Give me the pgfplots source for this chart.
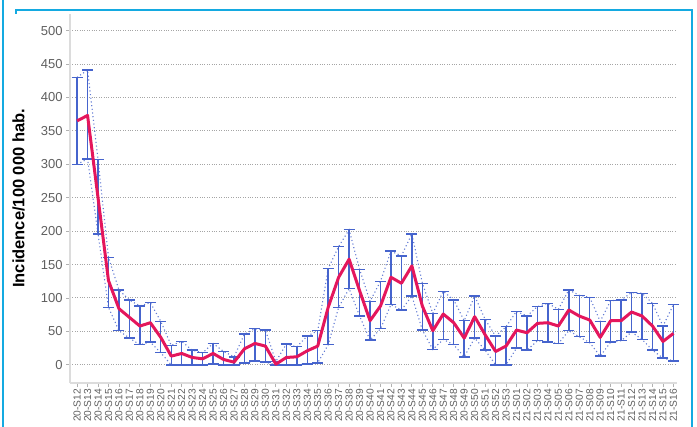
\documentclass[border=0pt]{standalone}
\usepackage{pgfplots}
\pgfplotsset{compat=1.18}
\usepackage{pgfplotstable}
\usepackage{fontspec}
\setmainfont{Liberation Sans}
\definecolor{redline}{RGB}{228,22,92}
\definecolor{barblue}{RGB}{70,100,205}
\definecolor{frameblue}{RGB}{20,170,225}
\definecolor{gridgray}{RGB}{165,165,165}
\definecolor{ticklab}{RGB}{95,95,95}
\definecolor{axgray}{RGB}{220,220,220}

\pgfplotstableread{
i y up lo
0 365 430 300
1 373 441 308
2 250 307 196
3 126 161 86
4 84 112 51
5 71 97 40
6 58 88 30
7 63 93 34
8 41 65 18
9 13 29 0
10 17 35 0
11 11 22 0
12 9 18 0
13 17 32 1
14 8 20 0
15 4 12 0
16 24 46 3
17 32 54 6
18 28 52 4
19 1 5 0
20 11 31 0
21 12 27 0
22 21 43 1
23 28 51 3
24 86 144 30
25 131 177 86
26 158 202 114
27 111 143 73
28 66 95 37
29 88 125 54
30 131 170 90
31 122 163 82
32 148 196 103
33 88 122 52
34 51 77 23
35 76 110 38
36 63 97 30
37 40 66 12
38 72 103 40
39 45 68 22
40 20 43 0
41 28 57 0
42 52 80 25
43 48 73 22
44 62 87 36
45 63 92 34
46 58 83 32
47 82 112 51
48 73 104 42
49 67 101 33
50 41 65 13
51 66 96 34
52 66 97 36
53 79 108 49
54 73 107 38
55 58 92 22
56 35 58 10
57 47 90 6
}\data

\begin{document}
\begin{tikzpicture}[x=1pt,y=1pt]
\useasboundingbox (0,0) rectangle (697,427);
\draw[frameblue, line width=2pt] (3,0) -- (3,427);
\draw[frameblue, line width=2pt] (16,413) -- (16,417) -- (692,417) -- (692,0);
\begin{axis}[
  at={(67,66)}, anchor=south west,
  scale only axis, width=607pt, height=369pt,
  xmin=-0.67, xmax=57.35, ymin=-27, ymax=525,
  axis x line*=bottom, axis y line*=left,
  axis line style={draw=axgray, line width=1.3pt, -},
  ytick={0,50,...,500},
  xtick={0,...,57},
  xticklabels={20-S12,20-S13,20-S14,20-S15,20-S16,20-S17,20-S18,20-S19,20-S20,20-S21,20-S22,20-S23,20-S24,20-S25,20-S26,20-S27,20-S28,20-S29,20-S30,20-S31,20-S32,20-S33,20-S34,20-S35,20-S36,20-S37,20-S38,20-S39,20-S40,20-S41,20-S42,20-S43,20-S44,20-S45,20-S46,20-S47,20-S48,20-S49,20-S50,20-S51,20-S52,20-S53,21-S01,21-S02,21-S03,21-S04,21-S05,21-S06,21-S07,21-S08,21-S09,21-S10,21-S11,21-S12,21-S13,21-S14,21-S15,21-S16},
  tick align=outside,
  major tick length=4pt,
  tick style={draw=gray!60, line width=0.8pt},
  ymajorgrids,
  grid style={draw=gridgray, dotted, line width=1pt},
  /pgf/number format/assume math mode=true,
  yticklabel style={font=\fontsize{13}{15}\selectfont, text=ticklab},
  xticklabel style={font=\fontsize{10.2}{12}\selectfont, text=ticklab, rotate=90, anchor=east, inner sep=2pt},
  ylabel={\textbf{Incidence/100 000 hab.}},
  ylabel style={font=\fontsize{16.5}{18}\selectfont, text=black, at={(axis description cs:-0.069,0.5)}, anchor=south},
  clip=false,
]
\addplot[barblue!85, dash pattern=on 1.1pt off 2.6pt, line width=1.1pt, forget plot] table[x=i, y=up] {\data};
\addplot[barblue!85, dash pattern=on 1.1pt off 2.6pt, line width=1.1pt, forget plot] table[x=i, y=lo] {\data};
\addplot[draw=none, mark=none, forget plot,
  error bars/.cd, y dir=both, y explicit,
  error bar style={draw=barblue, line width=1.4pt, solid},
  error mark=-,
  error mark options={draw=barblue, rotate=90, mark size=5.5pt, line width=1.4pt, solid}]
  table[x=i, y=y, y error plus expr=\thisrow{up}-\thisrow{y}, y error minus expr=\thisrow{y}-\thisrow{lo}] {\data};
\addplot[redline, line width=3pt, line join=round, mark=none] table[x=i, y=y] {\data};
\end{axis}
\end{tikzpicture}
\end{document}
